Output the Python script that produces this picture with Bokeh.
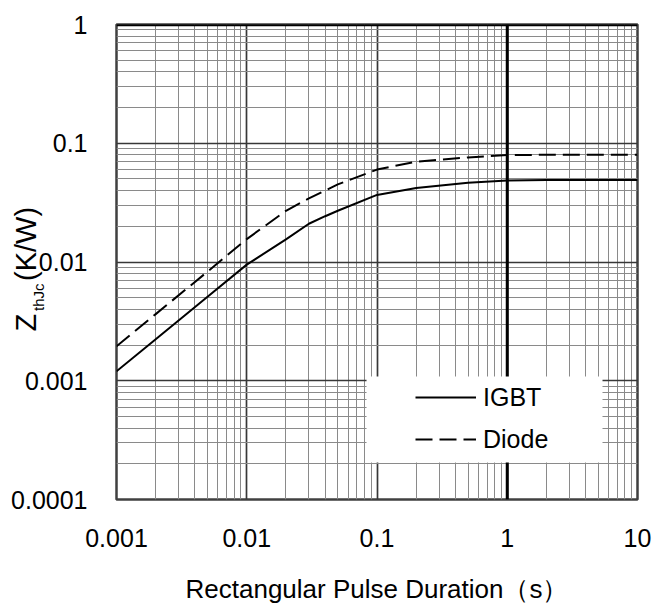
from bokeh.plotting import figure
from bokeh.models import (Range1d, FixedTicker, Span, Label, Legend, LegendItem,
                          BoxAnnotation)
from bokeh.embed import file_html
from bokeh.resources import INLINE

# ---- data ----
pulse_s = [0.001, 0.002, 0.005, 0.01, 0.02, 0.03, 0.04, 0.05, 0.1, 0.2, 0.5, 1, 2, 5, 10]
zth_igbt = [0.0012, 0.00224, 0.0051, 0.0095, 0.0155, 0.021, 0.0243, 0.027, 0.0367,
            0.042, 0.0465, 0.0485, 0.049, 0.049, 0.049]
zth_diode = [0.00195, 0.00364, 0.0083, 0.0156, 0.027, 0.0343, 0.040, 0.045, 0.060,
             0.070, 0.076, 0.0795, 0.080, 0.080, 0.080]

x_ticks = [0.001, 0.01, 0.1, 1, 10]
x_tick_labels = ["0.001", "0.01", "0.1", "1", "10"]
y_ticks = [0.0001, 0.001, 0.01, 0.1, 1]
y_tick_labels = ["0.0001", "0.001", "0.01", "0.1", "1"]
series_names = ["IGBT", "Diode"]
x_title = "Rectangular Pulse Duration（s）"
y_title_parts = ["Z", "thJc", "(K/W)"]

FONT = "Liberation Sans"

p = figure(width=652, height=605, x_axis_type="log", y_axis_type="log",
           x_range=Range1d(0.001, 10), y_range=Range1d(0.0001, 1),
           output_backend="svg", toolbar_location=None,
           frame_width=521, frame_height=475,
           min_border_left=116, min_border_right=15, min_border_top=24,
           min_border_bottom=106)
p.background_fill_color = "white"
p.border_fill_color = "white"
p.outline_line_color = "#404040"
p.outline_line_width = 2.5

def minor_of(ticks):
    out = []
    for t in ticks[:-1]:
        for m in range(2, 10):
            out.append(m * t)
    return out

p.xaxis.ticker = FixedTicker(ticks=x_ticks, minor_ticks=minor_of(x_ticks))
p.yaxis.ticker = FixedTicker(ticks=y_ticks, minor_ticks=minor_of(y_ticks))
p.xaxis.major_label_overrides = {t: l for t, l in zip(x_ticks, x_tick_labels)}
p.yaxis.major_label_overrides = {t: l for t, l in zip(y_ticks, y_tick_labels)}

for ax in (p.xaxis, p.yaxis):
    ax.axis_line_color = None
    ax.major_tick_line_color = None
    ax.minor_tick_line_color = None
    ax.major_label_text_font = FONT
    ax.major_label_text_font_size = "25px"
    ax.major_label_text_color = "black"
    ax.major_label_standoff = 23

p.xaxis.axis_label = x_title
p.xaxis.axis_label_text_font = FONT
p.xaxis.axis_label_text_font_size = "26px"
p.xaxis.axis_label_text_font_style = "normal"
p.xaxis.axis_label_text_color = "black"
p.xaxis.axis_label_standoff = 24

for g in (p.xgrid, p.ygrid):
    g.grid_line_color = "#383838"
    g.grid_line_width = 1.7
    g.grid_line_alpha = 1
    g.minor_grid_line_color = "#8a8a8a"
    g.minor_grid_line_width = 1

# heavy lines at x = 1 and on the top edge
p.add_layout(Span(location=1, dimension="height", line_color="black",
                  line_width=3, level="underlay"))
p.add_layout(Span(location=1, dimension="width", line_color="black",
                  line_width=3.5, level="underlay"))

r_igbt = p.line(pulse_s, zth_igbt, line_color="black", line_width=2)
r_diode = p.line(pulse_s, zth_diode, line_color="black", line_width=2,
                 line_dash="17 7")

# white box behind legend
p.add_layout(BoxAnnotation(left=0.0831, right=5.386, bottom=0.000205, top=0.001086,
                           fill_color="white", fill_alpha=1, line_color=None))

legend = Legend(items=[LegendItem(label=series_names[0], renderers=[r_igbt]),
                       LegendItem(label=series_names[1], renderers=[r_diode])],
                location=(299, 45), orientation="vertical",
                glyph_width=61, glyph_height=30, label_height=30,
                label_standoff=7, spacing=12, padding=0, margin=0,
                background_fill_alpha=0, border_line_color=None,
                label_text_font=FONT, label_text_font_size="25px",
                label_text_color="black")
p.add_layout(legend, "center")

# y axis title: Z_thJc(K/W), rotated; placed in a side panel so it is not clipped
for txt, size, xo, yo in [(y_title_parts[0], "29px", -91, -69.5),
                          (y_title_parts[1], "15px", -78, -49),
                          (y_title_parts[2], "29px", -91, -19)]:
    p.add_layout(Label(x=0.001, y=0.01, x_offset=xo, y_offset=yo, text=txt,
                       angle=90, angle_units="deg", text_align="left",
                       text_baseline="middle", text_font=FONT,
                       text_font_size=size, text_color="black"), "below")

open("out.html", "w").write(file_html(p, INLINE))
